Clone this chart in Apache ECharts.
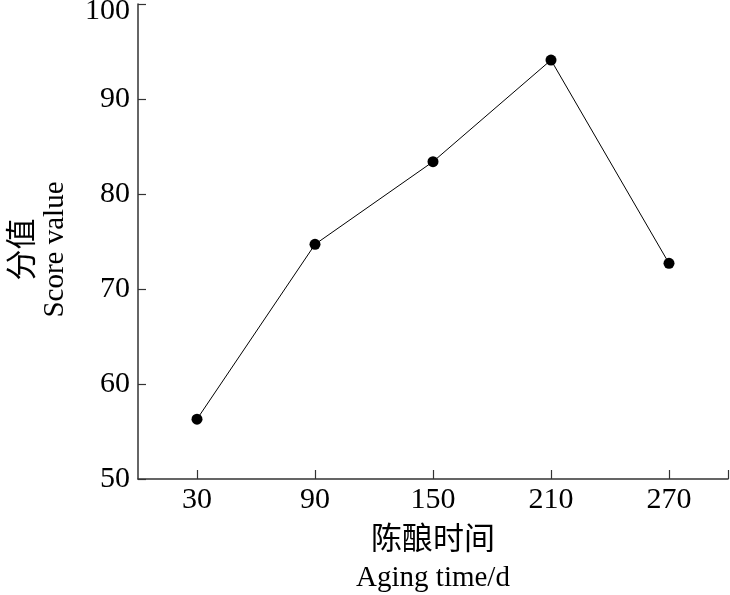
<!DOCTYPE html>
<html>
<head>
<meta charset="utf-8">
<script src="https://cdn.jsdelivr.net/npm/echarts@6/dist/echarts.min.js"></script>
<style>html,body{margin:0;padding:0;background:#fff}#c{width:730px;height:595px}</style>
</head>
<body>
<div id="c"></div>
<script>
const agingDays = [30, 90, 150, 210, 270];
const scoreValues = [56.3, 74.7, 83.4, 94.1, 72.7];
const xTickValues = [30, 90, 150, 210, 270, 300];
const yTicks = [50, 60, 70, 80, 90, 100];

const FONT = "'Liberation Serif','Times New Roman','Noto Sans CJK SC',serif";
const chart = echarts.init(document.getElementById('c'), null, {renderer: 'canvas'});
chart.setOption({
  animation: false,
  grid: {left: 138, right: 2, top: 4, bottom: 116, containLabel: false, outerBoundsMode: 'none'},
  xAxis: {
    type: 'value', min: 0, max: 300,
    axisLine: {show: true, lineStyle: {color: '#333', width: 1.5}},
    axisTick: {show: true, inside: true, length: 9, lineStyle: {color: '#333', width: 1.2}, customValues: xTickValues},
    axisLabel: {color: '#000', fontFamily: FONT, fontSize: 30, margin: 6, customValues: agingDays},
    splitLine: {show: false},
    name: '{a|陈酿时间}\n{b|Aging time/d}',
    nameLocation: 'middle', nameGap: 43,
    nameTextStyle: {
      rich: {
        a: {fontFamily: FONT, fontSize: 31, color: '#000', lineHeight: 38},
        b: {fontFamily: FONT, fontSize: 29, color: '#000', lineHeight: 36}
      }
    }
  },
  yAxis: {
    type: 'value', min: 50, max: 100, interval: 10,
    axisLine: {show: true, lineStyle: {color: '#333', width: 1.5}},
    axisTick: {show: true, inside: true, length: 8, lineStyle: {color: '#333', width: 1.2}},
    axisLabel: {
      color: '#000', fontFamily: FONT, fontSize: 30, margin: 8,
      formatter: v => v === yTicks[yTicks.length - 1] ? '{top|' + v + '}' : String(v),
      rich: {top: {fontFamily: FONT, fontSize: 30, color: '#000', padding: [14, 0, 0, 0]}}
    },
    splitLine: {show: false},
    name: '{a|分值}\n{b|Score value}',
    nameLocation: 'middle', nameRotate: 90, nameGap: 68,
    nameTextStyle: {
      padding: [0, 16, 0, 0],
      rich: {
        a: {fontFamily: FONT, fontSize: 31, color: '#000', lineHeight: 32},
        b: {fontFamily: FONT, fontSize: 29, color: '#000', lineHeight: 30}
      }
    }
  },
  series: [{
    type: 'line',
    data: agingDays.map((d, i) => [d, scoreValues[i]]),
    symbol: 'circle', symbolSize: 11,
    itemStyle: {color: '#000'},
    lineStyle: {color: '#000', width: 1}
  }]
});
</script>
</body>
</html>
